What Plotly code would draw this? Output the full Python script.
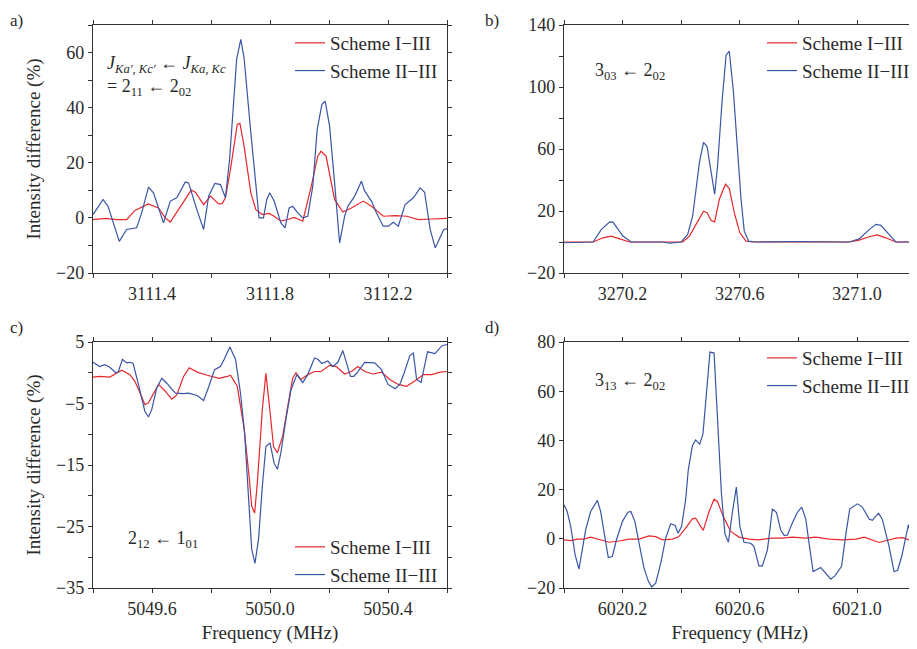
import plotly.graph_objects as go

# ---------------- data ----------------
# panel a) 2_11 <- 2_02
a_blue_x = [3111.2, 3111.234, 3111.251, 3111.289, 3111.314, 3111.348, 3111.365, 3111.388, 3111.405, 3111.439,
            3111.462, 3111.484, 3111.513, 3111.524, 3111.552, 3111.575, 3111.592, 3111.613, 3111.632, 3111.649,
            3111.663, 3111.687, 3111.701, 3111.712, 3111.735, 3111.752, 3111.763, 3111.778, 3111.789, 3111.799,
            3111.814, 3111.837, 3111.851, 3111.865, 3111.877, 3111.894, 3111.911, 3111.928, 3111.945, 3111.96,
            3111.976, 3111.987, 3112.002, 3112.019, 3112.036, 3112.053, 3112.064, 3112.087, 3112.11, 3112.121,
            3112.144, 3112.161, 3112.184, 3112.201, 3112.218, 3112.235, 3112.258, 3112.286, 3112.309, 3112.324,
            3112.343, 3112.36, 3112.377, 3112.389, 3112.4]
a_blue_y = [1.2, 6.7, 4.2, -8.5, -4.2, -3.6, 1.8, 11.2, 9.1, -1.8,
            6.1, 7.3, 13.0, 12.7, 3.0, -4.2, 7.9, 12.5, 12.1, 7.3,
            21.2, 57.6, 64.8, 58.2, 30.9, 11.5, 0.0, 0.0, 6.7, 9.1,
            6.1, -1.8, -3.6, 3.6, 4.2, 1.8, 0.0, 0.6, 11.5, 32.1,
            41.2, 42.4, 33.3, 12.7, -9.1, 0.6, 4.2, 7.9, 13.3, 9.7,
            6.1, 1.8, -3.0, -3.0, -1.6, -3.0, 4.8, 7.3, 10.9, 9.3,
            -4.2, -10.9, -6.7, -4.2, -4.0]
a_red_x = [3111.2, 3111.245, 3111.279, 3111.314, 3111.342, 3111.388, 3111.422, 3111.445, 3111.462, 3111.496,
           3111.533, 3111.547, 3111.575, 3111.598, 3111.626, 3111.638, 3111.649, 3111.666, 3111.689, 3111.698,
           3111.712, 3111.735, 3111.752, 3111.774, 3111.797, 3111.814, 3111.837, 3111.86, 3111.882, 3111.911,
           3111.94, 3111.962, 3111.973, 3111.99, 3112.019, 3112.047, 3112.076, 3112.116, 3112.144, 3112.184,
           3112.224, 3112.264, 3112.303, 3112.349, 3112.4]
a_red_y = [-0.6, -0.2, -0.6, -0.6, 2.7, 5.1, 3.6, 0.0, -1.5, 4.2,
           10.1, 9.3, 4.8, 7.9, 5.1, 5.2, 7.3, 17.6, 33.9, 34.3,
           26.1, 9.1, 3.0, 1.2, 1.6, 0.6, -1.2, -0.6, 0.2, -1.2,
           11.5, 22.4, 24.2, 22.4, 6.7, 2.1, 3.6, 6.1, 4.2, 0.6,
           0.8, 0.6, -0.6, -0.4, -0.2]

# panel b) 3_03 <- 2_02
b_blue_x = [3270.0, 3270.099, 3270.127, 3270.156, 3270.167, 3270.201, 3270.229, 3270.337, 3270.36, 3270.4,
            3270.422, 3270.439, 3270.462, 3270.476, 3270.488, 3270.502, 3270.514, 3270.524, 3270.539, 3270.553,
            3270.564, 3270.578, 3270.593, 3270.604, 3270.615, 3270.63, 3270.655, 3270.791, 3270.973, 3271.007,
            3271.041, 3271.064, 3271.081, 3271.104, 3271.132, 3271.2]
b_blue_y = [-0.5, 0.0, 8.0, 13.0, 12.8, 3.8, 0.0, 0.0, -0.7, 0.0,
            4.9, 16.8, 51.4, 64.3, 61.6, 44.9, 30.8, 49.2, 90.2, 120.5,
            123.1, 96.8, 55.7, 27.6, 7.0, 0.5, 0.0, 0.3, 0.0, 2.0,
            8.0, 11.4, 10.7, 5.9, 0.0, 0.0]
b_red_x = [3270.0, 3270.099, 3270.133, 3270.161, 3270.19, 3270.224, 3270.36, 3270.405, 3270.428, 3270.456,
           3270.476, 3270.488, 3270.502, 3270.514, 3270.53, 3270.551, 3270.564, 3270.581, 3270.6, 3270.621,
           3270.644, 3270.973, 3271.007, 3271.041, 3271.069, 3271.098, 3271.132, 3271.2]
b_red_y = [0.0, 0.0, 2.7, 3.8, 2.0, 0.0, 0.0, 0.0, 3.8, 13.5,
           19.9, 18.9, 13.8, 13.0, 27.6, 37.3, 34.5, 19.0, 5.9, 0.5,
           0.0, 0.0, 1.2, 3.4, 4.6, 2.7, 0.0, 0.0]

# panel c) 2_12 <- 1_01
c_blue_x = [5049.4, 5049.423, 5049.44, 5049.457, 5049.477, 5049.485, 5049.5, 5049.514, 5049.525, 5049.536,
            5049.554, 5049.576, 5049.588, 5049.599, 5049.616, 5049.633, 5049.65, 5049.679, 5049.707, 5049.724,
            5049.753, 5049.775, 5049.793, 5049.812, 5049.832, 5049.844, 5049.864, 5049.883, 5049.9, 5049.914,
            5049.927, 5049.938, 5049.949, 5049.961, 5049.974, 5049.986, 5050.0, 5050.014, 5050.025, 5050.037,
            5050.054, 5050.071, 5050.091, 5050.111, 5050.128, 5050.151, 5050.162, 5050.176, 5050.196, 5050.213,
            5050.23, 5050.247, 5050.273, 5050.284, 5050.298, 5050.321, 5050.355, 5050.378, 5050.4, 5050.424,
            5050.44, 5050.455, 5050.474, 5050.486, 5050.497, 5050.512, 5050.534, 5050.559, 5050.583, 5050.6]
c_blue_y = [1.7, 1.0, 1.3, 0.9, 0.0, 0.1, 2.2, 1.6, 1.7, 1.5,
            -1.9, -6.3, -7.2, -6.0, -2.5, -0.9, -1.7, -3.3, -3.4, -3.3,
            -3.7, -4.5, -2.2, 0.5, 1.0, 2.1, 4.2, 2.2, -3.3, -9.8,
            -20.1, -28.7, -31.0, -27.1, -18.5, -12.0, -11.4, -14.7, -15.7, -13.0,
            -7.6, -2.8, -0.3, -1.6, -0.3, 2.4, 2.2, 1.5, 1.9, 1.0,
            1.7, 3.6, -0.6, -0.6, 0.2, 1.7, 1.6, 0.5, -1.9, -2.6,
            -1.9, 0.0, 2.8, 3.2, -1.1, -1.6, 3.4, 3.1, 4.4, 4.6]
c_red_x = [5049.4, 5049.423, 5049.457, 5049.497, 5049.525, 5049.542, 5049.565, 5049.576, 5049.588, 5049.605,
           5049.622, 5049.645, 5049.667, 5049.684, 5049.707, 5049.726, 5049.753, 5049.787, 5049.827, 5049.855,
           5049.866, 5049.889, 5049.912, 5049.929, 5049.938, 5049.948, 5049.957, 5049.974, 5049.986, 5049.997,
           5050.012, 5050.025, 5050.043, 5050.06, 5050.077, 5050.088, 5050.105, 5050.128, 5050.151, 5050.173,
           5050.202, 5050.225, 5050.253, 5050.276, 5050.298, 5050.321, 5050.349, 5050.378, 5050.406, 5050.435,
           5050.463, 5050.492, 5050.52, 5050.549, 5050.577, 5050.6]
c_red_y = [-0.7, -0.6, -0.7, 0.4, -0.3, -1.4, -3.9, -5.2, -4.9, -3.3,
           -1.9, -3.0, -4.3, -3.6, -0.6, 0.8, 0.1, -0.4, -0.9, -0.6,
           -0.4, -2.2, -9.0, -16.8, -21.7, -22.8, -17.9, -6.0, -0.1, -4.9,
           -12.0, -13.0, -10.3, -5.5, -0.9, 0.0, -1.1, -0.3, 0.2, 0.2,
           1.2, 1.0, -0.2, 0.2, 1.0, 0.2, -0.2, 0.1, -1.1, -1.9,
           -2.2, -1.3, -0.3, -0.3, 0.1, 0.2]

# panel d) 3_13 <- 2_02
d_blue_x = [6020.0, 6020.011, 6020.023, 6020.038, 6020.051, 6020.063, 6020.074, 6020.091, 6020.114, 6020.125,
            6020.14, 6020.151, 6020.165, 6020.179, 6020.199, 6020.218, 6020.228, 6020.242, 6020.256, 6020.273,
            6020.288, 6020.299, 6020.313, 6020.33, 6020.347, 6020.364, 6020.379, 6020.389, 6020.401, 6020.415,
            6020.424, 6020.438, 6020.449, 6020.463, 6020.474, 6020.486, 6020.498, 6020.512, 6020.523, 6020.537,
            6020.549, 6020.561, 6020.574, 6020.588, 6020.6, 6020.614, 6020.637, 6020.648, 6020.665, 6020.677,
            6020.694, 6020.711, 6020.725, 6020.739, 6020.751, 6020.762, 6020.779, 6020.796, 6020.811, 6020.825,
            6020.836, 6020.85, 6020.876, 6020.893, 6020.91, 6020.925, 6020.947, 6020.963, 6020.975, 6021.001,
            6021.018, 6021.041, 6021.052, 6021.073, 6021.086, 6021.109, 6021.126, 6021.138, 6021.152, 6021.175,
            6021.186, 6021.2]
d_blue_y = [13.8, 11.1, 5.0, -6.5, -12.3, -4.5, 3.7, 11.1, 15.6, 11.1,
            0.9, -7.6, -7.2, -0.4, 7.0, 10.8, 11.1, 7.0, -1.8, -11.9,
            -17.3, -19.6, -18.0, -9.9, 0.3, 6.1, 5.4, 2.3, 5.0, 15.9,
            28.0, 37.8, 40.2, 38.5, 42.5, 59.2, 75.9, 75.5, 48.4, 18.6,
            2.0, -1.4, 10.4, 21.0, 5.0, -1.4, -1.8, -3.1, -11.0, -11.0,
            -4.5, 12.1, 10.7, 3.7, 1.4, 1.5, 6.4, 10.7, 12.9, 8.0,
            -1.8, -13.3, -11.7, -14.0, -16.4, -15.0, -11.2, 3.0, 12.2, 14.2,
            12.9, 8.0, 7.5, 10.4, 8.0, -3.1, -13.3, -12.9, -7.2, 5.7,
            0.9, -5.1]
d_red_x = [6020.0, 6020.023, 6020.046, 6020.068, 6020.091, 6020.119, 6020.154, 6020.188, 6020.222, 6020.256,
           6020.29, 6020.313, 6020.336, 6020.37, 6020.392, 6020.415, 6020.438, 6020.449, 6020.463, 6020.475,
           6020.495, 6020.512, 6020.523, 6020.546, 6020.569, 6020.597, 6020.631, 6020.665, 6020.711, 6020.745,
           6020.779, 6020.825, 6020.859, 6020.905, 6020.95, 6020.996, 6021.024, 6021.047, 6021.075, 6021.098,
           6021.132, 6021.155, 6021.177, 6021.2]
d_red_y = [-0.4, -0.7, -0.1, -0.1, 0.7, -0.1, -1.4, -0.9, -0.1, -0.1,
           1.2, 0.9, -0.4, -0.1, 0.9, 4.3, 8.1, 8.4, 5.7, 3.4,
           11.1, 16.1, 15.2, 8.4, 3.0, 0.7, -0.1, -0.4, 0.3, 0.3,
           0.7, 0.3, 0.7, -0.1, -0.4, -0.1, 0.7, -0.4, -1.5, -0.8,
           0.3, 0.5, -0.4, -0.1]

series_names = ["Scheme I\u2212III", "Scheme II\u2212III"]
panel_labels = ["a)", "b)", "c)", "d)"]
transitions = [
    "<i>J</i><sub><i>Ka\u2032, Kc\u2032</i></sub> \u2190 <i>J</i><sub><i>Ka, Kc</i></sub><br>= 2<sub>11</sub> \u2190 2<sub>02</sub>",
    "3<sub>03</sub> \u2190 2<sub>02</sub>",
    "2<sub>12</sub> \u2190 1<sub>01</sub>",
    "3<sub>13</sub> \u2190 2<sub>02</sub>",
]
y_title = "Intensity difference (%)"
x_title = "Frequency (MHz)"

# ---------------- styling ----------------
# The page body adds an 8 px margin, so the figure is made 8 px smaller and
# every position below is given in window pixels, then shifted by OFF.
OFF = 8
W, H = 917 - OFF, 649 - OFF
RED = "#e8272b"
BLUE = "#3a55a5"
TXT = "#2a2a2a"
FONT = "Liberation Serif"


def px(x):
    return (x - OFF) / W


def py(y):
    return 1 - (y - OFF) / H


fig = go.Figure()

panels = [
    dict(bx=a_blue_x, by=a_blue_y, rx=a_red_x, ry=a_red_y),
    dict(bx=b_blue_x, by=b_blue_y, rx=b_red_x, ry=b_red_y),
    dict(bx=c_blue_x, by=c_blue_y, rx=c_red_x, ry=c_red_y),
    dict(bx=d_blue_x, by=d_blue_y, rx=d_red_x, ry=d_red_y),
]

for i, p in enumerate(panels):
    sfx = "" if i == 0 else str(i + 1)
    leg = "legend" + sfx
    fig.add_trace(go.Scatter(x=p["rx"], y=p["ry"], mode="lines", name=series_names[0],
                             line=dict(color=RED, width=1.2), xaxis="x" + sfx, yaxis="y" + sfx,
                             legend=leg))
    fig.add_trace(go.Scatter(x=p["bx"], y=p["by"], mode="lines", name=series_names[1],
                             line=dict(color=BLUE, width=1.2), xaxis="x" + sfx, yaxis="y" + sfx,
                             legend=leg))

xdom_l = [px(93), px(447)]
xdom_r = [px(564), 0.9986]
ydom_t = [py(273), py(25)]
ydom_b = [py(588), py(342)]

common_ax = dict(showline=True, linecolor="#333", linewidth=1.3, mirror="ticks", ticks="outside",
                 ticklen=4, tickwidth=1.1, tickcolor="#333", showgrid=False, zeroline=False,
                 automargin=False,
                 tickfont=dict(family=FONT, size=18, color=TXT))

x_ranges = [[3111.2, 3112.4], [3270.0, 3271.2], [5049.4, 5050.6], [6020.0, 6021.2]]
x_tick0 = [3111.4, 3270.2, 5049.6, 6020.2]
y_ranges = [[-20, 70], [-20, 140], [-35, 5], [-20, 80]]
y_dtick = [20, 40, 10, 20]
y_tick0 = [-20, -20, 5, -20]
y_minor = [10, 20, 5, None]
xdoms = [xdom_l, xdom_r, xdom_l, xdom_r]
ydoms = [ydom_t, ydom_t, ydom_b, ydom_b]

layout = {}
for i in range(4):
    sfx = "" if i == 0 else str(i + 1)
    xa = dict(common_ax, domain=xdoms[i], range=x_ranges[i], anchor="y" + sfx,
              tick0=x_tick0[i], dtick=0.4, tickformat=".1f",
              minor=dict(dtick=0.2, ticklen=4, tickcolor="#333", tickwidth=1.1, ticks="outside"))
    if i >= 2:
        xa["title"] = dict(text=x_title, font=dict(family=FONT, size=19, color=TXT), standoff=7)
    ya = dict(common_ax, domain=ydoms[i], range=y_ranges[i], anchor="x" + sfx,
              tick0=y_tick0[i], dtick=y_dtick[i])
    if y_minor[i]:
        ya["minor"] = dict(dtick=y_minor[i], ticklen=4, tickcolor="#333", tickwidth=1.1, ticks="outside")
    if i in (0, 2):
        ya["title"] = dict(text=y_title, font=dict(family=FONT, size=19, color=TXT), standoff=10)
    layout["xaxis" + sfx] = xa
    layout["yaxis" + sfx] = ya

leg_pos = [(px(290), py(24)), (px(762), py(24)), (px(290), py(528)), (px(762), py(339))]
for i in range(4):
    sfx = "" if i == 0 else str(i + 1)
    layout["legend" + sfx] = dict(x=leg_pos[i][0], y=leg_pos[i][1], xanchor="left", yanchor="top",
                                  bgcolor="rgba(0,0,0,0)", borderwidth=0,
                                  font=dict(family=FONT, size=19, color=TXT),
                                  itemwidth=30, tracegroupgap=0)

fig.update_layout(**layout)

annos = []
lab_pos = [(8, 9), (483, 9), (8, 316), (483, 316)]
for i, lab in enumerate(panel_labels):
    annos.append(dict(x=px(lab_pos[i][0]), y=py(lab_pos[i][1]), xref="paper", yref="paper",
                      text=lab, showarrow=False, xanchor="left", yanchor="top",
                      font=dict(family=FONT, size=17, color=TXT)))
tr_pos = [(105, 76), (593, 71), (126, 539), (593, 381)]
for i, t in enumerate(transitions):
    annos.append(dict(x=px(tr_pos[i][0]), y=py(tr_pos[i][1]), xref="paper", yref="paper",
                      text=t, showarrow=False, xanchor="left", yanchor="middle", align="left",
                      font=dict(family=FONT, size=18, color=TXT)))

fig.update_layout(width=W, height=H, margin=dict(l=0, r=0, t=0, b=0, autoexpand=False),
                  paper_bgcolor="white", plot_bgcolor="white", annotations=annos,
                  showlegend=True)

fig.write_html("out.html")
